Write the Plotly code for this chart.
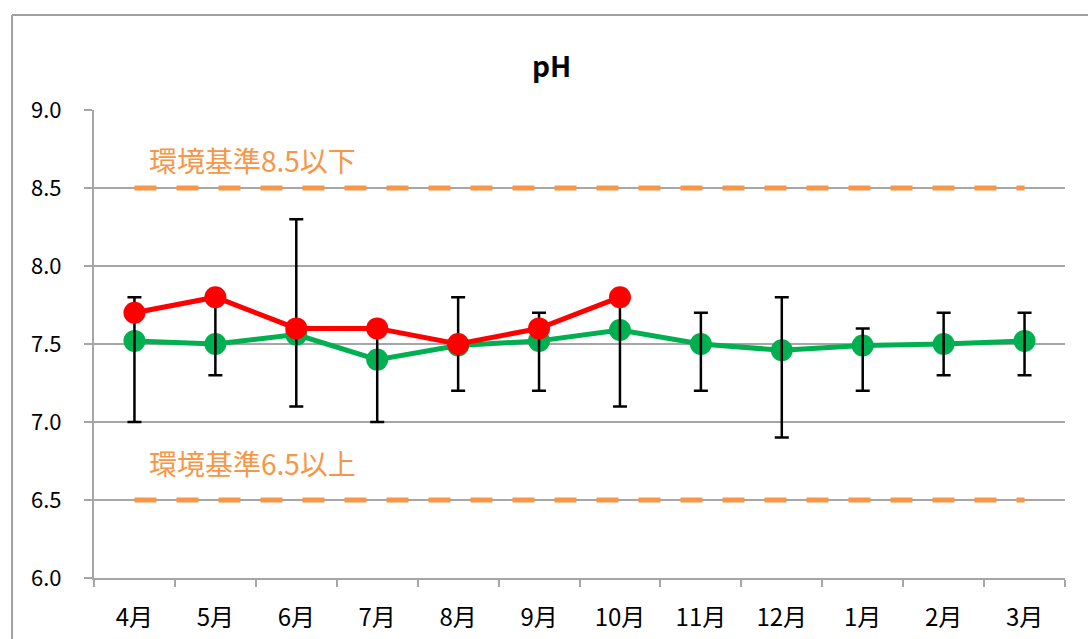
import plotly.graph_objects as go

months = ["4月", "5月", "6月", "7月", "8月", "9月", "10月", "11月", "12月", "1月", "2月", "3月"]
avg_values = [7.52, 7.50, 7.56, 7.40, 7.49, 7.52, 7.59, 7.50, 7.46, 7.49, 7.50, 7.52]
max_values = [7.8, 7.8, 8.3, 7.6, 7.8, 7.7, 7.8, 7.7, 7.8, 7.6, 7.7, 7.7]
min_values = [7.0, 7.3, 7.1, 7.0, 7.2, 7.2, 7.1, 7.2, 6.9, 7.2, 7.3, 7.3]
this_year_months = ["4月", "5月", "6月", "7月", "8月", "9月", "10月"]
this_year_values = [7.7, 7.8, 7.6, 7.6, 7.5, 7.6, 7.8]
upper_limit = [8.5, 8.5, 8.5, 8.5, 8.5, 8.5, 8.5, 8.5, 8.5, 8.5, 8.5, 8.5]
lower_limit = [6.5, 6.5, 6.5, 6.5, 6.5, 6.5, 6.5, 6.5, 6.5, 6.5, 6.5, 6.5]
y_ticks = [6.0, 6.5, 7.0, 7.5, 8.0, 8.5, 9.0]
y_tick_text = ["6.0", "6.5", "7.0", "7.5", "8.0", "8.5", "9.0"]
title_text = "pH"
upper_label = "環境基準8.5以下"
lower_label = "環境基準6.5以上"

FONT = "Noto Sans CJK JP"
ORANGE = "#F79646"
GREEN = "#00B050"
RED = "#FF0000"
GRID = "#A6A6A6"

err_plus = [round(mx - a, 3) for mx, a in zip(max_values, avg_values)]
err_minus = [round(a - mn, 3) for mn, a in zip(min_values, avg_values)]

fig = go.Figure()
for lim in (upper_limit, lower_limit):
    fig.add_trace(go.Scatter(
        x=months, y=lim, mode="lines",
        line=dict(color=ORANGE, width=5, dash="22px,20px"),
        hoverinfo="skip", showlegend=False))

fig.add_trace(go.Scatter(
    x=months, y=avg_values, mode="lines+markers",
    line=dict(color=GREEN, width=5),
    marker=dict(color=GREEN, size=22),
    showlegend=False))

fig.add_trace(go.Scatter(
    x=months, y=avg_values, mode="markers",
    marker=dict(color="rgba(0,0,0,0)", size=1),
    error_y=dict(type="data", symmetric=False, array=err_plus, arrayminus=err_minus,
                 color="black", thickness=2.5, width=7),
    hoverinfo="skip", showlegend=False))

fig.add_trace(go.Scatter(
    x=this_year_months, y=this_year_values, mode="lines+markers",
    line=dict(color=RED, width=5),
    marker=dict(color=RED, size=22),
    showlegend=False))

fig.update_layout(
    width=1088, height=639,
    margin=dict(l=94, r=23, t=110, b=61),
    paper_bgcolor="white", plot_bgcolor="white",
    font=dict(family=FONT, size=22, color="black"),
    showlegend=False,
    xaxis=dict(
        type="category", categoryorder="array", categoryarray=months,
        range=[-0.5, 11.5], tickson="boundaries", automargin=False,
        ticks="outside", ticklen=7, tickcolor=GRID, tickwidth=2,
        showline=True, linecolor=GRID, linewidth=2,
        showgrid=False, zeroline=False,
        tickfont=dict(family=FONT, size=24), ticklabelstandoff=17),
    yaxis=dict(
        range=[6.0, 9.0], tickvals=y_ticks, ticktext=y_tick_text, automargin=False,
        ticks="outside", ticklen=8, tickcolor=GRID, tickwidth=2,
        showline=True, linecolor=GRID, linewidth=2,
        showgrid=True, gridcolor=GRID, gridwidth=2, zeroline=False,
        tickfont=dict(family=FONT, size=22), ticklabelstandoff=18),
    annotations=[
        dict(text="<b>" + title_text + "</b>", xref="paper", yref="paper",
             x=0.471, y=1.096, xanchor="center", yanchor="middle", showarrow=False,
             font=dict(family=FONT, size=28, color="black")),
        dict(text=upper_label, xref="paper", yref="y",
             x=0.055, y=8.68, xanchor="left", yanchor="middle", showarrow=False,
             font=dict(family=FONT, size=28, color=ORANGE)),
        dict(text=lower_label, xref="paper", yref="y",
             x=0.055, y=6.74, xanchor="left", yanchor="middle", showarrow=False,
             font=dict(family=FONT, size=28, color=ORANGE)),
    ],
    shapes=[
        dict(type="line", xref="paper", yref="paper", x0=-0.0844, x1=1.2, y0=1.203, y1=1.203,
             line=dict(color="#A0A0A0", width=2)),
        dict(type="line", xref="paper", yref="paper", x0=-0.0844, x1=-0.0844, y0=1.203, y1=-0.3,
             line=dict(color="#A0A0A0", width=2)),
    ],
)

fig.write_html("out.html", config={"displayModeBar": False},
               post_script="document.body.style.margin='0';document.body.style.overflow='hidden';")
